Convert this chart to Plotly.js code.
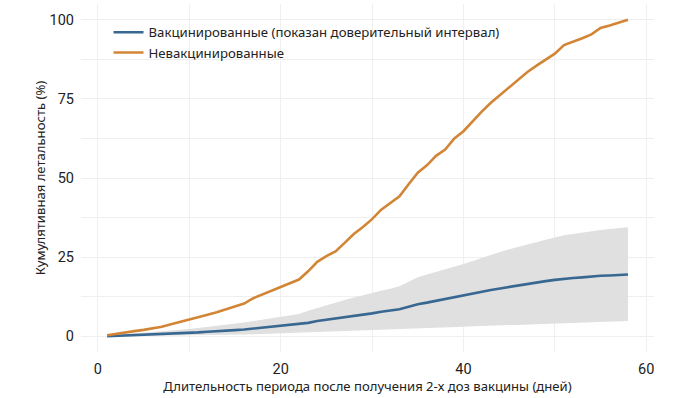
<!DOCTYPE html>
<html>
<head>
<meta charset="utf-8">
<script src="https://cdn.plot.ly/plotly-3.0.1.min.js"></script>
<style>html,body{margin:0;padding:0;background:#fff;}#chart{width:692px;height:398px;}</style>
</head>
<body>
<div id="chart"></div>
<script>
const days = Array.from({length: 58}, (_, i) => i + 1);
const unvaccinated = [0.3,0.8,1.2,1.6,2.0,2.4,3.0,3.8,4.5,5.2,6.0,6.8,7.6,8.5,9.2,10.3,12.0,13.2,14.4,15.6,16.7,17.9,20.5,23.5,25.3,26.8,29.5,32.3,34.5,37.0,40.0,42.2,44.2,48.0,51.7,54.0,57.0,59.0,62.5,64.8,68.0,71.0,73.8,76.3,78.5,81.3,83.5,85.5,87.3,89.3,92.0,93.0,94.2,95.4,97.4,98.2,99.0,100];
const vaccinated = [0,0.1,0.2,0.3,0.4,0.5,0.6,0.8,0.9,1.1,1.2,1.4,1.5,1.7,1.9,2.1,2.4,2.8,3.0,3.2,3.5,3.8,4.2,4.8,5.2,5.4,5.9,6.3,6.8,7.2,7.7,8.1,8.5,9.3,10.1,10.6,11.2,11.6,12.3,12.8,13.4,14.0,14.6,15.1,15.6,16.1,16.6,17.0,17.4,17.8,18.2,18.4,18.6,18.9,19.1,19.2,19.3,19.5];
const ciUpper = [0.2,0.4,0.6,0.8,1.0,1.2,1.4,1.7,2.0,2.3,2.6,2.9,3.2,3.5,3.9,4.3,4.8,5.2,5.6,6.0,6.4,7.0,8.0,8.9,9.7,10.6,11.4,12.2,13.0,13.8,14.4,15.0,15.8,17.2,18.6,19.5,20.3,21.0,21.8,22.8,23.8,24.8,25.7,26.6,27.5,28.3,29.1,29.8,30.5,31.2,31.9,32.3,32.8,33.2,33.6,33.9,34.2,34.4];
const ciLower = [0.0,0.0,0.0,0.1,0.1,0.1,0.2,0.2,0.2,0.3,0.3,0.4,0.4,0.4,0.5,0.5,0.6,0.7,0.8,0.9,1.0,1.0,1.1,1.2,1.3,1.4,1.5,1.6,1.7,1.8,1.9,2.0,2.1,2.3,2.4,2.5,2.6,2.7,2.9,3.0,3.1,3.2,3.3,3.4,3.5,3.6,3.7,3.8,3.9,4.0,4.1,4.2,4.3,4.4,4.5,4.6,4.7,4.8];
const names = ['Вакцинированные (показан доверительный интервал)', 'Невакцинированные'];
const xTicks = [0, 20, 40, 60];
const yTicks = [0, 25, 50, 75, 100];

const blue = '#386891';
const orange = '#d38536';
const gridc = '#efefef';

const traces = [
  {x: days, y: ciUpper, type: 'scatter', mode: 'lines', line: {width: 0}, showlegend: false, hoverinfo: 'skip'},
  {x: days, y: ciLower, type: 'scatter', mode: 'lines', line: {width: 0}, fill: 'tonexty', fillcolor: '#e0e0e0', showlegend: false, hoverinfo: 'skip'},
  {x: days, y: vaccinated, type: 'scatter', mode: 'lines', name: names[0], line: {color: blue, width: 2.6}},
  {x: days, y: unvaccinated, type: 'scatter', mode: 'lines', name: names[1], line: {color: orange, width: 2.6}}
];

const layout = {
  width: 692, height: 398,
  margin: {l: 81, r: 38, t: 4, b: 46},
  paper_bgcolor: '#fff', plot_bgcolor: '#fff',
  font: {family: '"Noto Sans", "DejaVu Sans", sans-serif', color: '#222'},
  xaxis: {
    range: [-1.85, 60.85], tickvals: xTicks, ticktext: xTicks.map(String),
    showgrid: true, gridcolor: gridc, gridwidth: 1, zeroline: false, showline: false, ticks: '',
    minor: {dtick: 10, tick0: 0, showgrid: true, gridcolor: gridc, gridwidth: 1, ticks: ''},
    tickfont: {family: 'Roboto, sans-serif', size: 14.5, color: '#222'},
    ticklabelstandoff: 6,
    title: {text: 'Длительность периода после получения 2-х доз вакцины (дней)', font: {size: 13.1, color: '#222'}, standoff: 4}
  },
  yaxis: {
    range: [-5, 105], tickvals: yTicks, ticktext: yTicks.map(String),
    showgrid: true, gridcolor: gridc, gridwidth: 1, zeroline: false, showline: false, ticks: '',
    minor: {dtick: 12.5, tick0: 0, showgrid: true, gridcolor: gridc, gridwidth: 1, ticks: ''},
    tickfont: {family: 'Roboto, sans-serif', size: 14.5, color: '#222'},
    ticklabelstandoff: 6,
    title: {text: 'Кумулятивная летальность (%)', font: {size: 13.1, color: '#222'}, standoff: 0}
  },
  legend: {x: 0.048, y: 0.962, xanchor: 'left', yanchor: 'top', traceorder: 'normal', bgcolor: 'rgba(0,0,0,0)', font: {size: 13.2, color: '#222'}, itemwidth: 30, tracegroupgap: 0},
  showlegend: true
};

Plotly.newPlot('chart', traces, layout, {displayModeBar: false, staticPlot: true});
</script>
</body>
</html>
